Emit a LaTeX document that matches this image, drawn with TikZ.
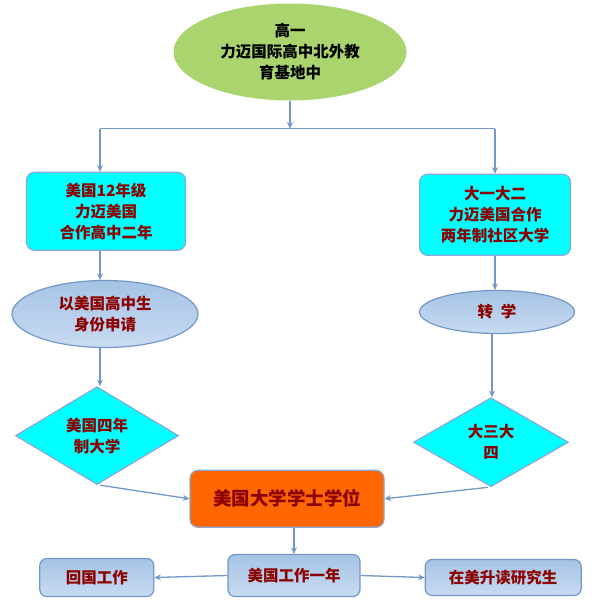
\documentclass[tikz,border=0pt]{standalone}
\usepackage{fontspec}
\setmainfont{Noto Sans CJK SC}
\usetikzlibrary{positioning, arrows.meta, shapes.geometric}

\definecolor{linkblue}{RGB}{114,152,200}
\definecolor{edgeblue}{RGB}{138,168,212}
\definecolor{textred}{RGB}{139,0,0}
\definecolor{leafgreen}{RGB}{169,212,110}
\definecolor{aqua}{RGB}{0,255,255}
\definecolor{paleblue}{RGB}{166,195,229}
\definecolor{palerblue}{RGB}{200,219,241}
\definecolor{degreeorange}{RGB}{255,102,0}

\newcommand{\flowfont}{\fontsize{15.5}{21}\selectfont\bfseries}

\begin{document}
\begin{tikzpicture}[
        x=1pt, y=1pt,
        topoval/.style={
            ellipse,
            fill=leafgreen,
            minimum width=233pt,
            minimum height=97pt,
            inner sep=0pt,
            align=center,
            font=\flowfont
        },
        box/.style={
            rectangle,
            rounded corners=8pt,
            draw=edgeblue,
            line width=1.2pt,
            fill=aqua,
            inner sep=0pt,
            align=center,
            text=textred,
            font=\flowfont
        },
        ovalbox/.style={
            ellipse,
            draw=linkblue,
            line width=1.2pt,
            top color=paleblue,
            bottom color=palerblue,
            inner sep=0pt,
            align=center,
            text=textred,
            font=\flowfont
        },
        diabox/.style={
            diamond,
            draw=edgeblue,
            line width=1.2pt,
            fill=aqua,
            inner sep=0pt,
            align=center,
            text=textred,
            font=\flowfont
        },
        degreebox/.style={
            rectangle,
            rounded corners=8pt,
            draw=edgeblue,
            line width=1.2pt,
            fill=degreeorange,
            minimum width=194pt,
            minimum height=57pt,
            align=center,
            text=textred,
            font=\fontsize{18.5}{22}\selectfont\bfseries
        },
        jobbox/.style={
            rectangle,
            rounded corners=7pt,
            draw=linkblue,
            line width=1.2pt,
            top color=paleblue,
            bottom color=palerblue,
            inner sep=0pt,
            align=center,
            text=textred,
            font=\flowfont
        },
        arrow/.style={
            -{Stealth[length=6.5pt,width=6pt]},
            line width=1.3pt,
            draw=linkblue
        },
        link/.style={
            line width=1.3pt,
            draw=linkblue
        }
    ]

    \useasboundingbox (0,0) rectangle (596,-604);

    % Noeud de depart
    \node[topoval] (gaoyi) at (290,-52) {高一\\力迈国际高中北外教\\育基地中};

    % Deux voies
    \node[box, minimum width=159pt, minimum height=78pt, below=71pt of gaoyi, xshift=-184pt] (lbox) {美国12年级\\力迈美国\\合作高中二年};
    \node[box, minimum width=151pt, minimum height=81pt, below=73pt of gaoyi, xshift=205pt] (rbox) {大一大二\\力迈美国合作\\两年制社区大学};

    \node[ovalbox, minimum width=186pt, minimum height=67pt, below=29pt of lbox, xshift=-1pt] (lell) {以美国高中生\\身份申请};
    \node[ovalbox, minimum width=155pt, minimum height=43pt, below=34pt of rbox, xshift=2pt] (rell) {转\enspace 学};

    \node[diabox, minimum width=163pt, minimum height=90pt, below=38pt of lell, xshift=-8pt] (ldia) {美国四年\\制大学};
    \node[diabox, minimum width=155pt, minimum height=89pt, below=63pt of rell, xshift=-6pt] (rdia) {大三大\\四};

    % Diplome
    \node[degreebox, below=369pt of gaoyi, xshift=-3pt] (degree) {美国大学学士学位};

    % Apres le diplome
    \node[jobbox, minimum width=132pt, minimum height=42pt, below=26pt of degree, xshift=7pt] (work) {美国工作一年};
    \node[jobbox, minimum width=114pt, minimum height=38pt, left=73pt of work, yshift=-2pt] (home) {回国工作};
    \node[jobbox, minimum width=156pt, minimum height=36pt, right=64pt of work, yshift=-2pt] (grad) {在美升读研究生};

    % Fleches
    \draw[arrow] (gaoyi.south) -- ++(0,-28) coordinate (split);
    \draw[link] ([xshift=-6pt]lbox.north |- split) -- (rbox.north |- split);
    \draw[arrow] ([xshift=-6pt]lbox.north |- split) -- ([xshift=-6pt]lbox.north);
    \draw[arrow] (rbox.north |- split) -- (rbox.north);
    \draw[arrow] ([xshift=-6pt]lbox.south) -- ([xshift=-6pt]lbox.south |- lell.north);
    \draw[arrow] (rbox.south) -- (rbox.south |- rell.north);
    \draw[arrow] ([xshift=-5pt]lell.south) -- ([xshift=-5pt]lell.south |- ldia.north);
    \draw[arrow] ([xshift=-5pt]rell.south) -- ([xshift=-5pt]rell.south |- rdia.north);
    \draw[arrow] ([xshift=3pt]ldia.south) -- (degree.west);
    \draw[arrow] ([xshift=-3pt]rdia.south) -- (degree.east);
    \draw[arrow] (work.north |- degree.south) -- (work.north);
    \draw[arrow] (work.west) -- (home.east);
    \draw[arrow] (work.east) -- (grad.west);

\end{tikzpicture}
\end{document}
